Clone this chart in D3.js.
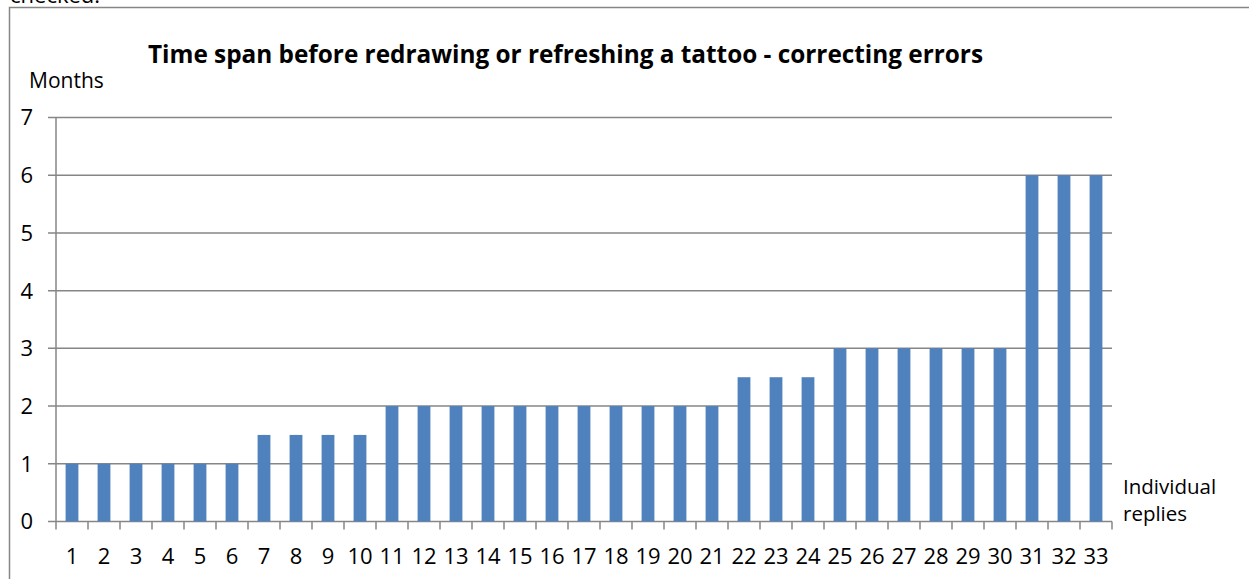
<!DOCTYPE html>
<html>
<head>
<meta charset="utf-8">
<script src="https://cdn.jsdelivr.net/npm/d3@7"></script>
<style>
  body { margin: 0; background: #fff; }
  svg { display: block; font-family: "Open Sans", "Noto Sans", sans-serif; }
</style>
</head>
<body>
<div id="chart"></div>
<script>
// replies 1..33, months before redrawing
var replies = d3.range(1, 34).map(function(d) { return String(d); });
var months = [1, 1, 1, 1, 1, 1,
              1.5, 1.5, 1.5, 1.5,
              2, 2, 2, 2, 2, 2, 2, 2, 2, 2, 2,
              2.5, 2.5, 2.5,
              3, 3, 3, 3, 3, 3,
              6, 6, 6];
var yTicks = [0, 1, 2, 3, 4, 5, 6, 7];

var W = 1249, H = 579;
var svg = d3.select("#chart").append("svg")
	.attr("width", W)
	.attr("height", H);

// text above the chart (cut off in the page)
svg.append("text")
	.attr("x", 10)
	.attr("y", 3)
	.attr("font-size", "22px")
	.attr("fill", "#000")
	.text("checked.");

// chart frame
svg.append("path")
	.attr("d", "M9.5," + (H + 2) + "V7.5H" + (W + 2))
	.attr("fill", "none")
	.attr("stroke", "#868686")
	.attr("stroke-width", 1.5);

var x = d3.scaleBand().domain(replies).range([56, 1112]).paddingInner(0.6).paddingOuter(0.3),
	y = d3.scaleLinear().domain([0, 7]).range([521.5, 117.5]);

// band for ticks (no padding)
var xb = d3.scaleBand().domain(replies).range([56, 1112]);

var g = svg.append("g");

// gridlines
g.selectAll(".grid")
	.data(yTicks)
  .enter().append("line")
	.attr("x1", 48)
	.attr("x2", 1112)
	.attr("y1", function(d) { return y(d); })
	.attr("y2", function(d) { return y(d); })
	.attr("stroke", "#868686")
	.attr("stroke-width", 1.5);

// y axis line
g.append("line")
	.attr("x1", 56).attr("x2", 56)
	.attr("y1", y(7)).attr("y2", y(0))
	.attr("stroke", "#868686")
	.attr("stroke-width", 1.5);

// y labels
g.selectAll(".ylab")
	.data(yTicks)
  .enter().append("text")
	.attr("x", 33)
	.attr("y", function(d) { return y(d); })
	.attr("dy", "0.36em")
	.attr("text-anchor", "end")
	.attr("font-size", "22px")
	.text(function(d) { return d; });

// x ticks
var tickPos = replies.map(function(d) { return xb(d); }).concat([1112]);
g.selectAll(".xtick")
	.data(tickPos)
  .enter().append("line")
	.attr("x1", function(d) { return d; })
	.attr("x2", function(d) { return d; })
	.attr("y1", y(0))
	.attr("y2", y(0) + 8)
	.attr("stroke", "#868686")
	.attr("stroke-width", 1.5);

// x labels
g.selectAll(".xlab")
	.data(replies)
  .enter().append("text")
	.attr("x", function(d) { return xb(d) + xb.bandwidth() / 2; })
	.attr("y", 564)
	.attr("text-anchor", "middle")
	.attr("font-size", "22px")
	.text(function(d) { return d; });

// bars
g.selectAll(".bar")
	.data(months)
  .enter().append("rect")
	.attr("class", "bar")
	.attr("x", function(d, i) { return x(replies[i]); })
	.attr("y", function(d) { return y(d); })
	.attr("width", x.bandwidth())
	.attr("height", function(d) { return y(0) - y(d); })
	.attr("fill", "#4F81BD");

// title
svg.append("text")
	.attr("x", 148)
	.attr("y", 63)
	.attr("font-size", "25px")
	.attr("font-weight", "bold")
	.attr("textLength", 835)
	.attr("lengthAdjust", "spacingAndGlyphs")
	.text("Time span before redrawing or refreshing a tattoo - correcting errors");

// axis titles
svg.append("text")
	.attr("x", 29)
	.attr("y", 88)
	.attr("font-size", "21px")
	.text("Months");

svg.append("text")
	.attr("x", 1123)
	.attr("y", 494)
	.attr("font-size", "20.5px")
	.text("Individual");
svg.append("text")
	.attr("x", 1123)
	.attr("y", 521)
	.attr("font-size", "20.5px")
	.text("replies");
</script>
</body>
</html>
